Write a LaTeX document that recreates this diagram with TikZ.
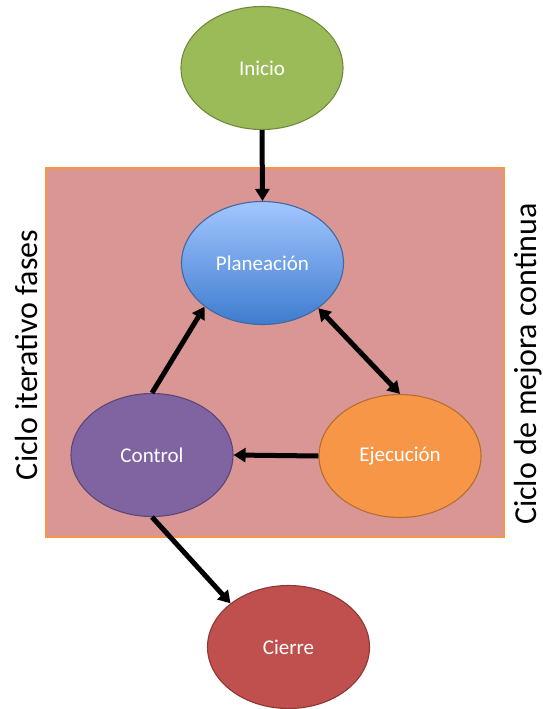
\documentclass[tikz,border=0pt]{standalone}
\usepackage{fontspec}
\setmainfont{Carlito}
\usetikzlibrary{shapes.geometric,arrows.meta}

\definecolor{frameFill}{RGB}{217,150,148}
\definecolor{frameLine}{RGB}{247,150,70}
\definecolor{inicioFill}{RGB}{155,187,89}
\definecolor{inicioLine}{RGB}{113,137,63}
\definecolor{planTop}{RGB}{163,198,255}
\definecolor{planBot}{RGB}{62,124,207}
\definecolor{planLine}{RGB}{64,105,160}
\definecolor{ejecFill}{RGB}{247,150,70}
\definecolor{ejecLine}{RGB}{182,109,49}
\definecolor{ctrlFill}{RGB}{128,100,162}
\definecolor{ctrlLine}{RGB}{92,71,118}
\definecolor{cierreFill}{RGB}{192,80,77}
\definecolor{cierreLine}{RGB}{140,56,54}

\tikzset{
  phase/.style={ellipse, minimum width=162pt, minimum height=123pt, inner sep=0pt,
    line width=1.1pt, text=white, font=\fontsize{21}{25}\selectfont},
  flow/.style={line width=5pt, -{Triangle[length=12pt,width=14pt]}},
  bothflow/.style={line width=5pt, {Triangle[length=12pt,width=14pt]}-{Triangle[length=12pt,width=14pt]}},
  sidelabel/.style={rotate=90, anchor=base, inner sep=0pt, font=\fontsize{32}{38}\selectfont}
}

\begin{document}
\begin{tikzpicture}[x=1pt,y=-1pt]
  \useasboundingbox (0,0) rectangle (543,709);

  % phase frame
  \filldraw[fill=frameFill, draw=frameLine, line width=1.5pt] (46,168) rectangle (504,537);

  % side labels
  \node[sidelabel] (iter) at (37,355) {Ciclo iterativo fases};
  \node[sidelabel] (mejora) at (536,364) {Ciclo de mejora continua};

  % phases
  \node[phase, fill=inicioFill, draw=inicioLine] (inicio) at (262,68) {Inicio};
  \node[phase, top color=planTop, bottom color=planBot, draw=planLine] (plan) at (262.5,263) {Planeación};
  \node[phase, fill=ejecFill, draw=ejecLine] (ejec) at (400,456) {Ejecución};
  \node[phase, fill=ctrlFill, draw=ctrlLine] (ctrl) at (152,455) {Control};
  \node[phase, fill=cierreFill, draw=cierreLine] (cierre) at (288.5,647) {Cierre};

  % connectors
  \draw[flow] (inicio.south) -- (plan.north);
  \draw[bothflow] (plan.321) -- (ejec.north);
  \draw[flow] (ejec.west) -- (ctrl.east);
  \draw[flow] (ctrl.north) -- (plan.217);
  \draw[flow] (ctrl.south) -- (cierre.143);
\end{tikzpicture}
\end{document}
